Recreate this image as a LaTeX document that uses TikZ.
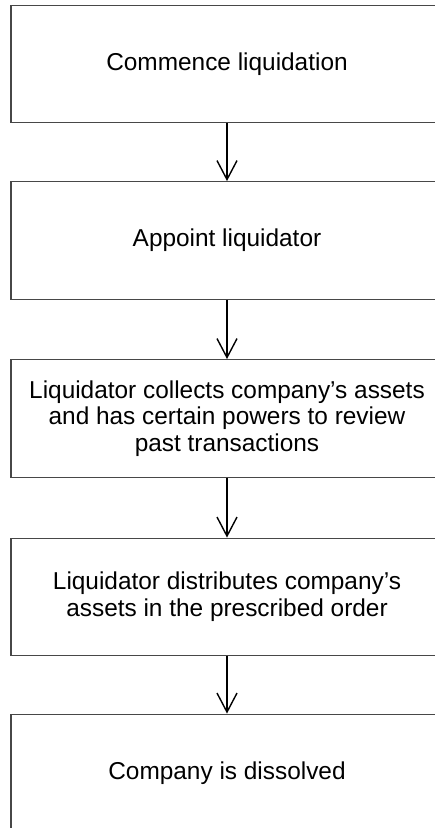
\documentclass[tikz,border=0pt]{standalone}
\usepackage{fontspec}
\setmainfont{Liberation Sans}
\usetikzlibrary{arrows.meta}
\begin{document}
\begin{tikzpicture}[x=1pt,y=-1pt,
  stepbox/.style={draw=black!72, line width=1.4pt, minimum width=432pt, minimum height=117.5pt,
    inner sep=0pt, align=center, font=\fontsize{24.4}{26.8}\selectfont},
  flow/.style={draw=black, line width=1.4pt, -{Straight Barb[length=19pt,width=20pt]}}]
\useasboundingbox (0,0) rectangle (435,828);
\node[stepbox] (b1) at (227,64) {Commence liquidation};
\node[stepbox] (b2) at (227,240.5) {Appoint liquidator};
\node[stepbox] (b3) at (227,418.5) {Liquidator collects company’s assets\\and has certain powers to review\\past transactions};
\node[stepbox] (b4) at (227,597) {Liquidator distributes company’s\\assets in the prescribed order};
\node[stepbox] (b5) at (227,773) {Company is dissolved};
\draw[flow] (b1) -- (b2);
\draw[flow] (b2) -- (b3);
\draw[flow] (b3) -- (b4);
\draw[flow] (b4) -- (b5);
\end{tikzpicture}
\end{document}
